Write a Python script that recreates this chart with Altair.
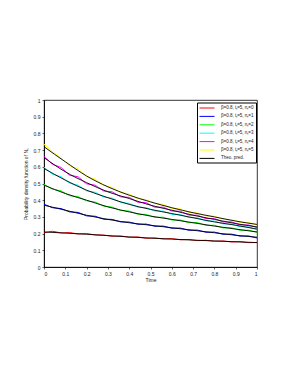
import altair as alt
import pandas as pd

labels = ["β=0.8, tₛ=5, nₛ=0", "β=0.8, tₛ=5, nₛ=1", "β=0.8, tₛ=5, nₛ=2",
          "β=0.8, tₛ=5, nₛ=3", "β=0.8, tₛ=5, nₛ=4", "β=0.8, tₛ=5, nₛ=5"]
theo_label = "Theo. pred."
colors = ["#ff0000", "#0000ff", "#00ff00", "#00ffff", "#ff00ff", "#ffff00"]

t_sim = [0.0, 0.04, 0.08, 0.12, 0.16, 0.2, 0.24, 0.28, 0.32, 0.36, 0.4, 0.44, 0.48,
         0.52, 0.56, 0.6, 0.64, 0.68, 0.72, 0.76, 0.8, 0.84, 0.88, 0.92, 0.96, 1.0]
sim_n0 = [0.205, 0.214, 0.204, 0.206, 0.198, 0.2, 0.192, 0.191, 0.184, 0.186, 0.178, 0.18, 0.172,
          0.174, 0.168, 0.17, 0.163, 0.165, 0.158, 0.16, 0.154, 0.156, 0.15, 0.152, 0.146, 0.147]
sim_n1 = [0.376, 0.355, 0.35, 0.33, 0.327, 0.306, 0.304, 0.286, 0.285, 0.27, 0.269, 0.256, 0.257,
          0.244, 0.245, 0.232, 0.233, 0.22, 0.221, 0.208, 0.209, 0.196, 0.197, 0.185, 0.186, 0.174]
sim_n2 = [0.495, 0.466, 0.456, 0.427, 0.421, 0.396, 0.389, 0.364, 0.359, 0.338, 0.335, 0.316, 0.315,
          0.297, 0.298, 0.281, 0.282, 0.265, 0.266, 0.249, 0.25, 0.234, 0.235, 0.22, 0.221, 0.207]
sim_n3 = [0.597, 0.556, 0.541, 0.502, 0.49, 0.455, 0.448, 0.419, 0.413, 0.386, 0.381, 0.358, 0.356,
          0.335, 0.335, 0.315, 0.315, 0.296, 0.295, 0.276, 0.275, 0.258, 0.258, 0.241, 0.24, 0.224]
sim_n4 = [0.662, 0.615, 0.596, 0.55, 0.54, 0.498, 0.49, 0.455, 0.45, 0.42, 0.417, 0.388, 0.385,
          0.358, 0.358, 0.335, 0.334, 0.311, 0.31, 0.29, 0.29, 0.27, 0.27, 0.252, 0.252, 0.236]
sim_n5 = [0.735, 0.69, 0.652, 0.607, 0.588, 0.541, 0.527, 0.49, 0.476, 0.447, 0.437, 0.409, 0.403,
          0.38, 0.375, 0.351, 0.348, 0.327, 0.324, 0.306, 0.305, 0.287, 0.284, 0.268, 0.266, 0.252]

t_theo = [0.0, 0.1, 0.2, 0.3, 0.4, 0.5, 0.6, 0.7, 0.8, 0.9, 1.0]
theo_n0 = [0.21, 0.203, 0.196, 0.188, 0.18, 0.173, 0.167, 0.161, 0.156, 0.151, 0.146]
theo_n1 = [0.37, 0.34, 0.31, 0.285, 0.265, 0.25, 0.235, 0.22, 0.205, 0.19, 0.178]
theo_n2 = [0.49, 0.44, 0.40, 0.36, 0.33, 0.305, 0.285, 0.265, 0.245, 0.227, 0.21]
theo_n3 = [0.59, 0.52, 0.46, 0.415, 0.375, 0.345, 0.32, 0.295, 0.27, 0.25, 0.227]
theo_n4 = [0.655, 0.57, 0.505, 0.45, 0.41, 0.37, 0.34, 0.31, 0.285, 0.26, 0.24]
theo_n5 = [0.72, 0.63, 0.545, 0.48, 0.43, 0.39, 0.355, 0.325, 0.30, 0.275, 0.255]

tick_vals = [0, 0.1, 0.2, 0.3, 0.4, 0.5, 0.6, 0.7, 0.8, 0.9, 1]

sims = [sim_n0, sim_n1, sim_n2, sim_n3, sim_n4, sim_n5]
theos = [theo_n0, theo_n1, theo_n2, theo_n3, theo_n4, theo_n5]

sim_rows = []
theo_rows = []
for i, lab in enumerate(labels):
    for t, v in zip(t_sim, sims[i]):
        sim_rows.append({"t": t, "v": v, "series": lab})
    for t, v in zip(t_theo, theos[i]):
        theo_rows.append({"t": t, "v": v, "series": lab})
sim_df = pd.DataFrame(sim_rows)
theo_df = pd.DataFrame(theo_rows)

font = "Liberation Sans"

x_enc = alt.X("t:Q", scale=alt.Scale(domain=[0, 1], nice=False),
              axis=alt.Axis(values=tick_vals, format="~g", title="Time", titlePadding=1,
                            labelOverlap=False, tickCount=11))
y_enc = alt.Y("v:Q", scale=alt.Scale(domain=[0, 1], nice=False),
              axis=alt.Axis(values=tick_vals, format="~g", labelOverlap=False, tickCount=11,
                            title="Probability density function of Nₛ", titlePadding=5))

sim_layer = alt.Chart(sim_df).mark_line(strokeWidth=1).encode(
    x=x_enc, y=y_enc,
    color=alt.Color("series:N",
                    scale=alt.Scale(domain=labels + [theo_label], range=colors + ["#000000"]),
                    legend=alt.Legend(title=None, orient="none", legendX=153, legendY=2.5,
                                      symbolType="M-2.5,0H2.5", symbolSize=36, symbolStrokeWidth=1,
                                      symbolOffset=4.5, labelOffset=10.5,
                                      labelFontSize=4.5, labelFont=font, rowPadding=2.4,
                                      labelColor="#222222",
                                      fillColor="white", strokeColor="black", padding=2,
                                      labelLimit=200)),
)

theo_layer = alt.Chart(theo_df).mark_line(strokeWidth=0.9, interpolate="monotone", color="black").encode(
    x=x_enc, y=y_enc, detail="series:N"
)

chart = alt.layer(sim_layer, theo_layer).properties(
    width=213, height=167,
    autosize=alt.AutoSizeParams(type="none"),
    padding={"left": 36, "top": 92, "right": 26, "bottom": 100},
).configure(background="white").configure_view(stroke="black", strokeWidth=0.8).configure_axis(
    grid=False, domainColor="black", tickColor="black", tickSize=2, tickWidth=0.6,
    domainWidth=0.8, labelFont=font, labelFontSize=5, labelColor="#222222",
    titleFont=font, titleFontSize=5, titleFontWeight="normal", titleColor="#222222",
    labelPadding=2, labelOverlap=False
)

chart.save("out.html", embed_options={"renderer": "svg", "actions": False})
